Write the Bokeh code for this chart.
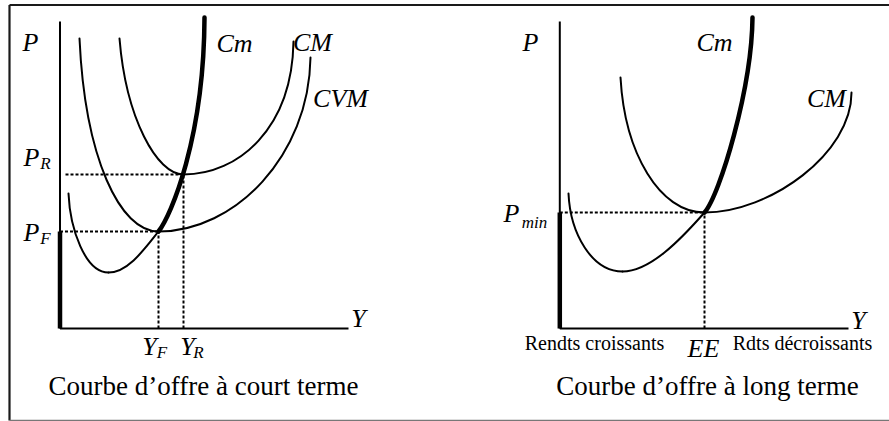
from bokeh.plotting import figure
from bokeh.models import Range1d
from bokeh.embed import file_html
from bokeh.resources import INLINE
from bokeh.core.properties import value

SERIF = value("Liberation Serif")

# ---------------- data (units: Y quantity, P price; origin = axes corner) ----------------
# Short-run panel
sr_axis_top, sr_axis_right = 307, 288.5
sr_PF, sr_YF, sr_PR, sr_YR = 97, 98.5, 154, 123.5
# cubic Bezier segments: start, control 1, control 2, end
sr_cvm_x0, sr_cvm_y0 = [19.5, 98.5], [290, 97]
sr_cvm_cx0, sr_cvm_cy0 = [25, 174.5], [170, 97]
sr_cvm_cx1, sr_cvm_cy1 = [60, 249], [97, 172]
sr_cvm_x1, sr_cvm_y1 = [98.5, 250.5], [97, 271]

sr_cm_x0, sr_cm_y0 = [59.5, 123.5], [290, 154]
sr_cm_cx0, sr_cm_cy0 = [66, 178.5], [210, 154]
sr_cm_cx1, sr_cm_cy1 = [97, 232], [154, 200]
sr_cm_x1, sr_cm_y1 = [123.5, 233.5], [154, 287]

sr_mc_x0, sr_mc_y0 = [8.5, 48.5], [135, 56]          # marginal cost, thin part
sr_mc_cx0, sr_mc_cy0 = [10, 68], [100, 56]
sr_mc_cx1, sr_mc_cy1 = [25, 85], [56, 80]
sr_mc_x1, sr_mc_y1 = [48.5, 98.5], [56, 97]
sr_mct = [98.5, 97, 111, 113, 144, 190, 144.5, 311]  # marginal cost, thick part

sr_labels = ["P", "Cm", "CM", "CVM", "Y"]
sr_label_x = [-29.5, 174.5, 252.5, 280.5, 298.5]
sr_label_y = [286, 285, 286, 230, 10]
sr_main = ["P", "P", "Y", "Y"]
sr_main_x = [-28.5, -28.5, 89.5, 127.5]
sr_main_y = [171, 96, -18, -18]
sr_sub = ["R", "F", "F", "R"]
sr_sub_x = [-14.5, -14.5, 102, 138.5]
sr_sub_y = [165, 90, -24, -24]
sr_title = "Courbe d\u2019offre à court terme"

# Long-run panel
lr_axis_top, lr_axis_right = 307, 288.7
lr_Pmin, lr_EE = 116, 144.7
lr_mc_x0, lr_mc_y0 = [8.7, 62.7], [135, 57]
lr_mc_cx0, lr_mc_cy0 = [10.5, 90], [95, 57]
lr_mc_cx1, lr_mc_cy1 = [32, 120], [57, 88]
lr_mc_x1, lr_mc_y1 = [62.7, 144.7], [57, 116]
lr_mct = [144.7, 116, 160, 133.3, 192, 240, 192.7, 311]

lr_cm_x0, lr_cm_y0 = [60.7, 144.7], [251, 116]
lr_cm_cx0, lr_cm_cy0 = [65, 210], [175, 116]
lr_cm_cx1, lr_cm_cy1 = [100, 292], [116, 175]
lr_cm_x1, lr_cm_y1 = [144.7, 291.7], [116, 236]

lr_labels = ["P", "Cm", "CM", "Y", "EE"]
lr_label_x = [-29.3, 154.7, 266.7, 298.7, 143.7]
lr_label_y = [286, 286, 230, 8, -20]
lr_small = ["Rendts croissants", "Rdts décroissants"]
lr_small_x = [34.7, 242.7]
lr_small_y = [-14, -14]
lr_title = "Courbe d\u2019offre à long terme"

# ---------------- figure ----------------
p = figure(width=889, height=421, output_backend="svg", toolbar_location=None,
           x_range=Range1d(-59.5, 829.5), y_range=Range1d(-93, 328),
           x_axis_location=None, y_axis_location=None, min_border=0)
p.extra_x_ranges = {"lt": Range1d(-559.3, 329.7)}
p.grid.visible = False
p.outline_line_color = None
p.background_fill_color = "white"
p.border_fill_color = "white"

# frame
p.segment(x0=[-50.5, -50.5], y0=[323.5, 323.5], x1=[829.5, -50.5], y1=[323.5, -92],
          line_color="#1a1a1a", line_width=2.2)
p.segment(x0=[-50.5], y0=[-92], x1=[829.5], y1=[-92], line_color="#777777", line_width=1.5)

def panel(xr, axis_top, axis_right, thick_top):
    kw = {} if xr is None else {"x_range_name": xr}
    p.segment(x0=[0, 0], y0=[0, 0], x1=[0, axis_right], y1=[axis_top, 0],
              line_color="black", line_width=2, **kw)
    p.segment(x0=[0], y0=[0], x1=[0], y1=[thick_top], line_color="black",
              line_width=4.5, **kw)
    return kw

def bez(kw, x0, y0, cx0, cy0, cx1, cy1, x1, y1, w):
    p.bezier(x0=x0, y0=y0, cx0=cx0, cy0=cy0, cx1=cx1, cy1=cy1, x1=x1, y1=y1,
             line_color="black", line_width=w, line_cap="round", **kw)

# ---- short run
kw = panel(None, sr_axis_top, sr_axis_right, sr_PF)
p.segment(x0=[0, 5.5, sr_YF, sr_YR], y0=[sr_PF, sr_PR, 0, 0],
          x1=[sr_YF, sr_YR, sr_YF, sr_YR], y1=[sr_PF, sr_PR, sr_PF, sr_PR],
          line_color="black", line_width=2, line_dash="3 2")
bez(kw, sr_cvm_x0, sr_cvm_y0, sr_cvm_cx0, sr_cvm_cy0, sr_cvm_cx1, sr_cvm_cy1, sr_cvm_x1, sr_cvm_y1, 2)
bez(kw, sr_cm_x0, sr_cm_y0, sr_cm_cx0, sr_cm_cy0, sr_cm_cx1, sr_cm_cy1, sr_cm_x1, sr_cm_y1, 2)
bez(kw, sr_mc_x0, sr_mc_y0, sr_mc_cx0, sr_mc_cy0, sr_mc_cx1, sr_mc_cy1, sr_mc_x1, sr_mc_y1, 2)
bez(kw, [sr_mct[0]], [sr_mct[1]], [sr_mct[2]], [sr_mct[3]], [sr_mct[4]], [sr_mct[5]],
    [sr_mct[6]], [sr_mct[7]], 4.5)
p.text(x=sr_label_x, y=sr_label_y, text=sr_labels, text_font=SERIF, text_font_style="italic",
       text_font_size="26px", text_align="center", text_baseline="middle", text_color="black")
p.text(x=sr_main_x, y=sr_main_y, text=sr_main, text_font=SERIF, text_font_style="italic",
       text_font_size="26px", text_align="center", text_baseline="middle", text_color="black")
p.text(x=sr_sub_x, y=sr_sub_y, text=sr_sub, text_font=SERIF, text_font_style="italic",
       text_font_size="17px", text_align="center", text_baseline="middle", text_color="black")
p.text(x=[143.5], y=[-57], text=[sr_title], text_font=SERIF, text_font_size="27px",
       text_align="center", text_baseline="middle", text_color="black")

# ---- long run
kw = panel("lt", lr_axis_top, lr_axis_right, lr_Pmin)
p.segment(x0=[0, lr_EE], y0=[lr_Pmin, 0], x1=[lr_EE, lr_EE], y1=[lr_Pmin, lr_Pmin],
          line_color="black", line_width=2, line_dash="3 2", **kw)
bez(kw, lr_cm_x0, lr_cm_y0, lr_cm_cx0, lr_cm_cy0, lr_cm_cx1, lr_cm_cy1, lr_cm_x1, lr_cm_y1, 2)
bez(kw, lr_mc_x0, lr_mc_y0, lr_mc_cx0, lr_mc_cy0, lr_mc_cx1, lr_mc_cy1, lr_mc_x1, lr_mc_y1, 2)
bez(kw, [lr_mct[0]], [lr_mct[1]], [lr_mct[2]], [lr_mct[3]], [lr_mct[4]], [lr_mct[5]],
    [lr_mct[6]], [lr_mct[7]], 4.5)
p.text(x=lr_label_x, y=lr_label_y, text=lr_labels, text_font=SERIF, text_font_style="italic",
       text_font_size="26px", text_align="center", text_baseline="middle", text_color="black", **kw)
p.text(x=[-48.3], y=[115], text=["P"], text_font=SERIF, text_font_style="italic",
       text_font_size="26px", text_align="center", text_baseline="middle", text_color="black", **kw)
p.text(x=[-25.3], y=[106], text=["min"], text_font=SERIF, text_font_style="italic",
       text_font_size="17px", text_align="center", text_baseline="middle", text_color="black", **kw)
p.text(x=lr_small_x, y=lr_small_y, text=lr_small, text_font=SERIF, text_font_size="20px",
       text_align="center", text_baseline="middle", text_color="black", **kw)
p.text(x=[147.7], y=[-57], text=[lr_title], text_font=SERIF, text_font_size="27px",
       text_align="center", text_baseline="middle", text_color="black", **kw)

open("out.html", "w").write(file_html(p, INLINE))
